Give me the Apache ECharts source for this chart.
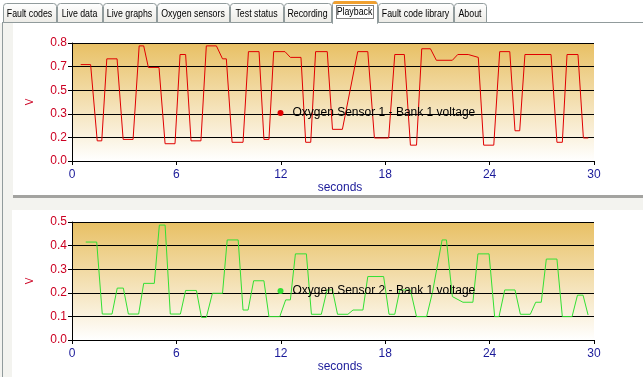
<!DOCTYPE html>
<html>
<head>
<meta charset="utf-8">
<script src="https://cdn.jsdelivr.net/npm/echarts@6/dist/echarts.min.js"></script>
<style>
  html, body { margin: 0; padding: 0; background: #F3F3EF; }
  #main { width: 643px; height: 377px; }
</style>
</head>
<body>
<div id="main"></div>
<script>
// tabs of the window
var tabNames = ['Fault codes', 'Live data', 'Live graphs', 'Oxygen sensors', 'Test status',
                'Recording', 'Playback', 'Fault code library', 'About'];
var tabEdges = [3, 57, 103, 157, 230, 284, 332, 378, 454, 487];
var activeTab = 6;

// sensor 1 (red)
var time1 = [0.5, 1.07, 1.45, 1.71, 2.0, 2.59, 2.94, 3.51, 3.86, 4.12, 4.39, 5.0, 5.35, 5.92,
             6.21, 6.53, 6.84, 7.41, 7.72, 8.3, 8.65, 8.87, 9.2, 9.83, 10.14, 10.75, 11.03, 11.32,
             11.59, 12.24, 12.55, 13.16, 13.43, 13.72, 14.0, 14.67, 14.97, 15.54, 16.42, 17.0,
             17.38, 18.2, 18.55, 19.1, 19.45, 19.8, 20.1, 20.6, 20.94, 21.86, 22.17, 22.77, 23.35,
             23.66, 24.24, 24.58, 25.16, 25.46, 25.73, 26.03, 27.53, 27.87, 28.18, 28.45, 29.08,
             29.39, 29.67];
var volt1 = [0.67, 0.67, 0.14, 0.14, 0.71, 0.71, 0.15, 0.15, 0.80, 0.80, 0.65, 0.65, 0.12, 0.12,
             0.74, 0.74, 0.14, 0.14, 0.80, 0.80, 0.71, 0.71, 0.13, 0.13, 0.76, 0.76, 0.15, 0.15,
             0.76, 0.76, 0.72, 0.72, 0.13, 0.13, 0.76, 0.76, 0.22, 0.22, 0.76, 0.76,
             0.16, 0.16, 0.74, 0.74, 0.11, 0.11, 0.78, 0.78, 0.70, 0.70, 0.74, 0.74, 0.72,
             0.11, 0.11, 0.76, 0.76, 0.21, 0.21, 0.74, 0.74, 0.13, 0.13, 0.74, 0.74,
             0.16, 0.16];

// sensor 2 (green)
var time2 = [0.79, 1.42, 1.74, 2.3, 2.6, 2.95, 3.24, 3.83, 4.12, 4.73, 5.02, 5.35, 5.65, 6.23,
             6.53, 7.15, 7.44, 7.72, 8.07, 8.65, 8.92, 9.55, 9.83, 10.12, 10.44, 11.03, 11.32,
             11.94, 12.28, 12.55, 12.84, 13.47, 13.76, 14.33, 14.66, 14.97, 15.26, 15.86, 16.15,
             16.72, 17.0, 17.91, 18.22, 18.55, 18.84, 19.45, 19.8, 20.38, 20.72, 21.27, 21.52,
             21.86, 22.47, 23.04, 23.33, 23.97, 24.29, 24.54, 24.87, 25.46, 25.77, 26.34, 26.65,
             26.97, 27.26, 27.87, 28.18, 28.74, 29.05, 29.37, 29.66];
var volt2 = [0.415, 0.415, 0.11, 0.11, 0.22, 0.22, 0.11, 0.11, 0.24, 0.24, 0.487, 0.487, 0.11, 0.11,
             0.21, 0.21, 0.096, 0.096, 0.198, 0.198, 0.424, 0.424, 0.127, 0.127, 0.251, 0.251, 0.099,
             0.099, 0.17, 0.17, 0.365, 0.365, 0.109, 0.109, 0.212, 0.212, 0.109, 0.109, 0.127,
             0.127, 0.269, 0.269, 0.109, 0.109, 0.212, 0.212, 0.099, 0.099, 0.203, 0.424, 0.424,
             0.184, 0.16, 0.16, 0.365, 0.365, 0.099, 0.099, 0.212, 0.212, 0.109, 0.109, 0.16,
             0.16, 0.343, 0.343, 0.099, 0.099, 0.19, 0.19, 0.106];

var xTicks = [0, 6, 12, 18, 24, 30];
var yLabels1 = ['0.0', '0.2', '0.3', '0.5', '0.7', '0.8'];
var yLabels2 = ['0.0', '0.1', '0.2', '0.3', '0.4', '0.5'];
var yMax1 = 0.82;
var yMax2 = 0.5;

var name1 = 'Oxygen Sensor 1 - Bank 1 voltage';
var name2 = 'Oxygen Sensor 2 - Bank 1 voltage';

function pairs(t, v) {
    var out = [];
    for (var i = 0; i < t.length; i++) out.push([t[i], v[i]]);
    return out;
}

var font = 'Liberation Sans, Arial, sans-serif';

function plotBg() {
    return new echarts.graphic.LinearGradient(0, 0, 0, 1, [
        {offset: 0, color: '#E8C064'},
        {offset: 1, color: '#FFFFFF'}
    ]);
}

function xAxisCfg(gi) {
    return {
        type: 'value', gridIndex: gi, min: 0, max: 30, interval: 6,
        name: 'seconds', nameLocation: 'middle', nameGap: 21,
        nameTextStyle: {color: '#1A1A99', fontFamily: font, fontSize: 12, padding: [0, 0, 0, 14]},
        axisLine: {lineStyle: {color: '#000', width: 1}},
        axisTick: {show: true, length: 4, lineStyle: {color: '#000'}},
        axisLabel: {color: '#1A1A99', fontFamily: font, fontSize: 12, margin: 8,
            formatter: function (v) { return xTicks.indexOf(v) >= 0 ? String(v) : ''; }},
        splitLine: {show: false}
    };
}

function yAxisCfg(gi, max, labels) {
    return {
        type: 'value', gridIndex: gi, min: 0, max: max, interval: max / 5,
        name: 'V', nameLocation: 'middle', nameGap: 37,
        nameTextStyle: {color: '#CC0022', fontFamily: font, fontSize: 10},
        axisLine: {show: true, lineStyle: {color: '#000', width: 1}},
        axisTick: {show: true, length: 4, lineStyle: {color: '#000'}},
        axisLabel: {color: '#CC0022', fontFamily: font, fontSize: 12, margin: 5,
            formatter: function (v, i) { return labels[i] !== undefined ? labels[i] : v.toFixed(1); }},
        splitLine: {show: true, lineStyle: {color: '#000', width: 1}}
    };
}

// window decoration: panels and tabs
var graphics = [
    {type: 'rect', z: -20, shape: {x: 0, y: 0, width: 643, height: 23}, style: {fill: '#FFFFFF'}},
    {type: 'rect', z: -20, shape: {x: 13, y: 23, width: 630, height: 172}, style: {fill: '#FFFFFF'}},
    {type: 'rect', z: -20, shape: {x: 13, y: 195, width: 630, height: 3}, style: {fill: '#A3A3A0'}},
    {type: 'rect', z: -20, shape: {x: 12, y: 210, width: 631, height: 167}, style: {fill: '#FFFFFF'}},
    {type: 'line', z: -19, shape: {x1: 2.5, y1: 22, x2: 2.5, y2: 377}, style: {stroke: '#919B9C', lineWidth: 1}},
    {type: 'line', z: -19, shape: {x1: 2, y1: 22.5, x2: 643, y2: 22.5}, style: {stroke: '#919B9C', lineWidth: 1}}
];

tabNames.forEach(function (name, i) {
    var x0 = tabEdges[i], x1 = tabEdges[i + 1] - 1;
    var active = i === activeTab;
    var y0 = active ? 1.5 : 3.5;
    graphics.push({
        type: 'rect', z: -10,
        shape: {x: x0 + 0.5, y: y0, width: x1 - x0, height: (active ? 22 : 19), r: [3, 3, 0, 0]},
        style: {
            fill: active ? '#FFFFFF' : new echarts.graphic.LinearGradient(0, 0, 0, 1, [
                {offset: 0, color: '#FFFFFF'}, {offset: 1, color: '#ECEBE6'}]),
            stroke: '#919B9C', lineWidth: 1
        }
    });
    if (active) {
        graphics.push({type: 'rect', z: -9, shape: {x: x0 + 1, y: 1, width: x1 - x0 - 1, height: 3, r: [3, 3, 0, 0]},
            style: {fill: '#F0A030'}});
        graphics.push({type: 'rect', z: -9, shape: {x: x0 + 4.5, y: 5.5, width: x1 - x0 - 8, height: 13},
            style: {fill: 'none', stroke: '#000', lineWidth: 1, lineDash: [1, 1]}});
        graphics.push({type: 'rect', z: -9, shape: {x: x0 + 1, y: 22, width: x1 - x0 - 1, height: 2},
            style: {fill: '#FFFFFF'}});
    }
    // narrow the text to the width of the small dialog font
    graphics.push({
        type: 'text', z: -8,
        x: (x0 + x1) / 2, y: active ? 12 : 14, scaleX: 0.8,
        style: {
            x: 0, y: 0, text: name,
            fill: '#000', font: '11px ' + font, align: 'center', verticalAlign: 'middle'
        }
    });
});

var chart = echarts.init(document.getElementById('main'), null, {renderer: 'canvas'});

var option = {
    animation: false,
    backgroundColor: 'transparent',
    graphic: {elements: graphics},
    grid: [
        {left: 72, top: 43, width: 522, height: 118, show: true, borderWidth: 0, backgroundColor: plotBg()},
        {left: 72, top: 222, width: 522, height: 118, show: true, borderWidth: 0, backgroundColor: plotBg()}
    ],
    xAxis: [xAxisCfg(0), xAxisCfg(1)],
    yAxis: [yAxisCfg(0, yMax1, yLabels1), yAxisCfg(1, yMax2, yLabels2)],
    legend: [
        {data: [name1], left: 277.5, top: 106, padding: 0, icon: 'circle', itemWidth: 14, itemHeight: 6,
         textStyle: {color: '#000', fontFamily: font, fontSize: 12, lineHeight: 14}},
        {data: [name2], left: 277.5, top: 284, padding: 0, icon: 'circle', itemWidth: 14, itemHeight: 6,
         textStyle: {color: '#000', fontFamily: font, fontSize: 12, lineHeight: 14}}
    ],
    series: [
        {name: name1, type: 'line', xAxisIndex: 0, yAxisIndex: 0, data: pairs(time1, volt1),
         showSymbol: false, symbol: 'none', color: '#E00000', lineStyle: {width: 1, color: '#E00000'}},
        {name: name2, type: 'line', xAxisIndex: 1, yAxisIndex: 1, data: pairs(time2, volt2),
         showSymbol: false, symbol: 'none', color: '#33E033', lineStyle: {width: 1, color: '#33E033'}}
    ]
};

chart.setOption(option);
</script>
</body>
</html>
